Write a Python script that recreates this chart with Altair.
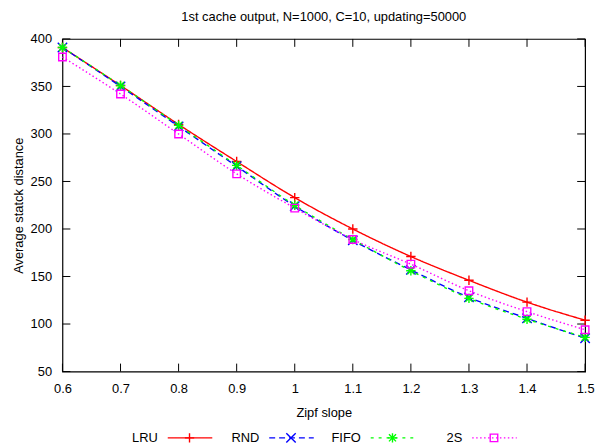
import altair as alt
import pandas as pd

# ---- data ----
zipf = [0.6, 0.7, 0.8, 0.9, 1.0, 1.1, 1.2, 1.3, 1.4, 1.5]
lru = [391, 351, 310, 271, 233, 200, 171, 146, 123, 104]
rnd = [391, 350, 308, 266, 224, 188, 157, 128, 106, 85]
fifo = [391, 351, 309, 267, 225, 189, 156, 127, 105, 86]
s2 = [381, 342, 300, 258, 222, 189, 163, 135, 113, 94]

series = ["LRU", "RND", "FIFO", "2S"]
colors = ["#ff0000", "#0000ff", "#00ff00", "#ff00ff"]
dashes = [[1, 0], [6, 4], [3, 5], [1.5, 2.5]]
shapes = [
    "M-1,0H1M0,-1V1",
    "M-1,-1L1,1M-1,1L1,-1",
    "M-1,0H1M0,-1V1M-0.75,-0.75L0.75,0.75M-0.75,0.75L0.75,-0.75",
    "M-0.8,-0.8H0.8V0.8H-0.8Z",
]
x_ticks = [0.6, 0.7, 0.8, 0.9, 1.0, 1.1, 1.2, 1.3, 1.4, 1.5]
y_ticks = [50, 100, 150, 200, 250, 300, 350, 400]

FONT = "Liberation Sans"
W, H = 528, 336
TL = 8  # inner tick length

rows = []
for name, vals in zip(series, [lru, rnd, fifo, s2]):
    for x, v in zip(zipf, vals):
        rows.append({"series": name, "zipf": x, "dist": v})
df = pd.DataFrame(rows)

xscale = alt.Scale(domain=[0.6, 1.5], nice=False, zero=False)
yscale = alt.Scale(domain=[50, 400], nice=False, zero=False)
cscale = alt.Scale(domain=series, range=colors)
dscale = alt.Scale(domain=series, range=dashes)
sscale = alt.Scale(domain=series, range=shapes)

xaxis = alt.Axis(values=x_ticks, format="~g", ticks=False, domain=False, grid=False,
                 labelFlush=False, labelPadding=11, labelFontSize=13, labelFont=FONT,
                 labelColor="black",
                 title="Zipf slope", titleFont=FONT, titleFontSize=13,
                 titleFontWeight="normal", titleColor="black", titlePadding=11)
yaxis = alt.Axis(values=y_ticks, ticks=False, domain=False, grid=False,
                 labelPadding=11, labelFontSize=13, labelFont=FONT, labelColor="black",
                 title="Average statck distance", titleFont=FONT, titleFontSize=13,
                 titleFontWeight="normal", titleColor="black", titlePadding=5)

base = alt.Chart(df)
lines = base.mark_line(strokeWidth=1.4, interpolate="monotone").encode(
    x=alt.X("zipf:Q", scale=xscale, axis=xaxis),
    y=alt.Y("dist:Q", scale=yscale, axis=yaxis),
    color=alt.Color("series:N", scale=cscale, legend=None),
    strokeDash=alt.StrokeDash("series:N", scale=dscale, legend=None),
    detail="series:N",
)
points = base.mark_point(filled=False, size=90, strokeWidth=1.4, opacity=1).encode(
    x=alt.X("zipf:Q", scale=xscale),
    y=alt.Y("dist:Q", scale=yscale),
    color=alt.Color("series:N", scale=cscale, legend=None),
    shape=alt.Shape("series:N", scale=sscale, legend=None),
)

ydf = pd.DataFrame({"dist": y_ticks})
xdf = pd.DataFrame({"zipf": x_ticks})
tick_l = alt.Chart(ydf).mark_rule(color="black").encode(
    y=alt.Y("dist:Q", scale=yscale), x=alt.value(0), x2=alt.value(TL))
tick_r = alt.Chart(ydf).mark_rule(color="black").encode(
    y=alt.Y("dist:Q", scale=yscale), x=alt.value(W - TL), x2=alt.value(W))
tick_b = alt.Chart(xdf).mark_rule(color="black").encode(
    x=alt.X("zipf:Q", scale=xscale), y=alt.value(H - TL), y2=alt.value(H))
tick_t = alt.Chart(xdf).mark_rule(color="black").encode(
    x=alt.X("zipf:Q", scale=xscale), y=alt.value(0), y2=alt.value(TL))

main = alt.layer(tick_l, tick_r, tick_b, tick_t, lines, points).properties(
    width=W, height=H,
    title=alt.TitleParams("1st cache output, N=1000, C=10, updating=50000",
                          font=FONT, fontSize=13, fontWeight="normal",
                          color="black", offset=6, dy=-3),
    view=alt.ViewBackground(stroke="black", strokeWidth=1.2),
)

# ---- legend row (gnuplot style: label, then line sample with marker) ----
ldf = pd.DataFrame({"series": series, "idx": [0, 1, 2, 3]})
lx = alt.X("idx:Q", scale=alt.Scale(domain=[-0.94, 4.21], nice=False, zero=False), axis=None)
lbase = alt.Chart(ldf)
ltext = lbase.mark_text(align="right", baseline="middle", font=FONT, fontSize=13,
                        color="black").encode(x=lx, y=alt.value(7), text="series:N")
lrule = lbase.mark_rule(xOffset=10, x2Offset=55, strokeWidth=1.4).encode(
    x=lx, x2="idx:Q", y=alt.value(7),
    color=alt.Color("series:N", scale=cscale, legend=None),
    strokeDash=alt.StrokeDash("series:N", scale=dscale, legend=None),
)
lpoint = lbase.mark_point(xOffset=32, filled=False, size=90, strokeWidth=1.4, opacity=1).encode(
    x=lx, y=alt.value(7),
    color=alt.Color("series:N", scale=cscale, legend=None),
    shape=alt.Shape("series:N", scale=sscale, legend=None),
)
legend = alt.layer(lrule, lpoint, ltext).properties(width=W, height=14)

chart = alt.vconcat(main, legend, spacing=10).properties(
    padding={"left": 3, "top": 0, "right": 0, "bottom": 0},
    background="white",
).configure_view(stroke=None)

chart.save("out.html", embed_options={"renderer": "svg", "actions": False})
